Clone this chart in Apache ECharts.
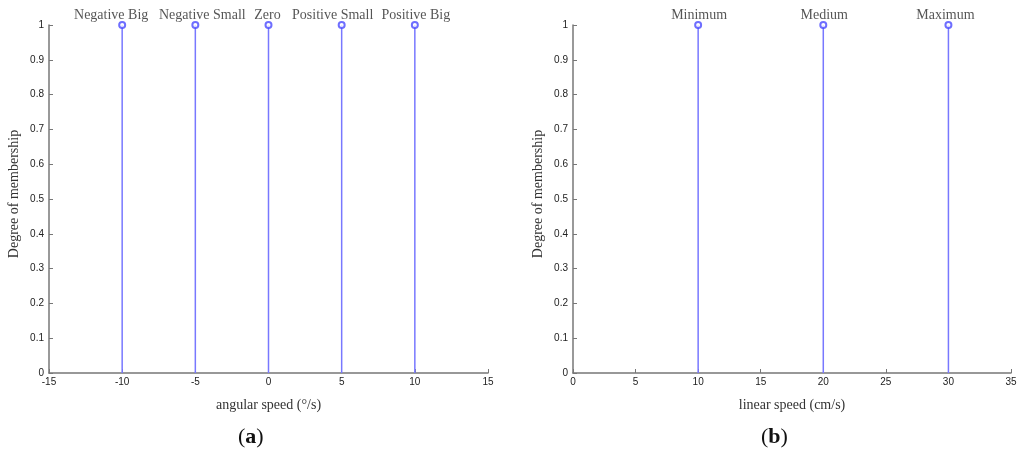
<!DOCTYPE html>
<html>
<head>
<meta charset="utf-8">
<script src="https://cdn.jsdelivr.net/npm/echarts@6/dist/echarts.min.js"></script>
<style>
  html, body { margin: 0; padding: 0; background: #fff; }
  #chart { width: 1024px; height: 455px; }
</style>
</head>
<body>
<div id="chart"></div>
<script>
// panel (a): angular speed
const angularCenters = [-10, -5, 0, 5, 10];
const angularLabels = ['Negative Big', 'Negative Small', 'Zero', 'Positive Small', 'Positive Big'];
const angularDegree = [1, 1, 1, 1, 1];

// panel (b): linear speed
const linearCenters = [10, 20, 30];
const linearLabels = ['Minimum', 'Medium', 'Maximum'];
const linearDegree = [1, 1, 1];

// horizontal nudges of the text above each stem, as placed in the figure
const angularLabelShift = [-11, 7, -1, -9, 1];
const linearLabelShift = [1, 1, -3];

const stemColor = '#7878ff';
const markColor = '#4a4aff';
const axisColor = '#777';
const serif = '"Liberation Serif", "DejaVu Serif", serif';
const sans = '"Liberation Sans", Arial, sans-serif';

function xAxisOf(idx, min, max, name) {
    return {
        type: 'value', gridIndex: idx, min: min, max: max, interval: 5,
        name: name, nameLocation: 'middle', nameGap: 25,
        nameTextStyle: { fontFamily: serif, fontSize: 14, color: '#333' },
        axisLine: { show: true, onZero: false, lineStyle: { color: axisColor, width: 1.5 } },
        axisTick: { show: true, inside: true, length: 4, lineStyle: { color: axisColor } },
        axisLabel: { fontFamily: sans, fontSize: 10, color: '#222', margin: 4 },
        splitLine: { show: false }
    };
}

function yAxisOf(idx) {
    return {
        type: 'value', gridIndex: idx, min: 0, max: 1, interval: 0.1,
        name: 'Degree of membership', nameLocation: 'middle', nameGap: 28,
        nameTextStyle: { fontFamily: serif, fontSize: 14, color: '#333', padding: [0, 0, 0, 10] },
        axisLine: { show: true, onZero: false, lineStyle: { color: axisColor, width: 1.5 } },
        axisTick: { show: true, inside: true, length: 4, lineStyle: { color: axisColor } },
        axisLabel: { fontFamily: sans, fontSize: 10, color: '#222', margin: 5 },
        splitLine: { show: false }
    };
}

function stems(idx, xs, ys, labels, shift) {
    return [
        {
            type: 'bar', xAxisIndex: idx, yAxisIndex: idx,
            data: xs.map((x, i) => [x, ys[i]]), barWidth: 1.5, silent: true,
            itemStyle: { color: stemColor }
        },
        {
            type: 'scatter', xAxisIndex: idx, yAxisIndex: idx,
            data: xs.map((x, i) => ({
                value: [x, ys[i]],
                label: { offset: [shift[i], 2] }
            })),
            symbol: 'emptyCircle', symbolSize: 6, silent: true,
            itemStyle: { color: markColor, borderColor: markColor, borderWidth: 1.5 },
            label: {
                show: true, position: 'top', distance: 1,
                formatter: p => labels[p.dataIndex],
                fontFamily: serif, fontSize: 14, color: '#2a2a2a'
            },
            z: 5
        }
    ];
}

const capStyle = {
    fontFamily: serif, fontSize: 22, fontWeight: 'normal', color: '#111',
    rich: { b: { fontFamily: serif, fontSize: 22, fontWeight: 'bold', color: '#111' } }
};

const chart = echarts.init(document.getElementById('chart'), null, { renderer: 'canvas' });
chart.setOption({
    animation: false,
    backgroundColor: '#fff',
    title: [
        { text: '({b|a})', left: 233, top: 421, textStyle: capStyle },
        { text: '({b|b})', left: 756, top: 421, textStyle: capStyle }
    ],
    grid: [
        { left: 49, top: 25, width: 439, height: 348 },
        { left: 573, top: 25, width: 438, height: 348 }
    ],
    xAxis: [
        xAxisOf(0, -15, 15, 'angular speed (°/s)'),
        xAxisOf(1, 0, 35, 'linear speed (cm/s)')
    ],
    yAxis: [yAxisOf(0), yAxisOf(1)],
    series: [
        ...stems(0, angularCenters, angularDegree, angularLabels, angularLabelShift),
        ...stems(1, linearCenters, linearDegree, linearLabels, linearLabelShift)
    ]
});
</script>
</body>
</html>
